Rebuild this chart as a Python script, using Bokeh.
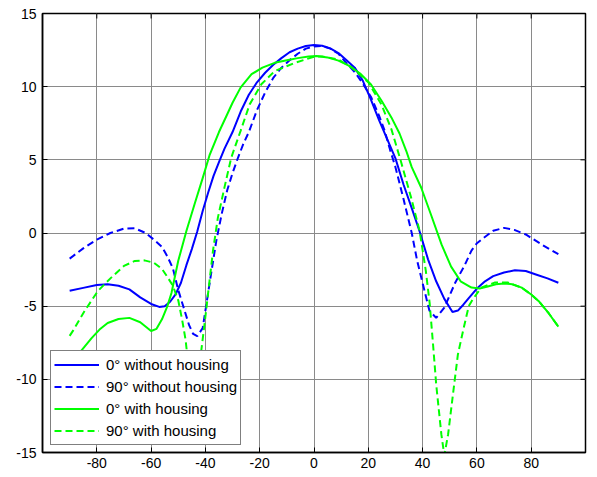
from bokeh.plotting import figure
from bokeh.models import Range1d, FixedTicker, PrintfTickFormatter
from bokeh.embed import file_html
from bokeh.resources import INLINE

# ---- data (angle in degrees, level in dB) ----
x_ticks = [-80, -60, -40, -20, 0, 20, 40, 60, 80]
y_ticks = [-15, -10, -5, 0, 5, 10, 15]

b0_x = [-90, -85, -80, -76, -72, -68, -64, -60, -57, -55, -53, -51, -49, -47, -45, -43, -41, -39,
        -37, -35, -33, -30, -27, -24, -21, -18, -15, -12, -9, -6, -3, 0, 3, 6, 9, 12, 15, 18, 21,
        24, 27, 30, 33, 36, 39, 42, 45, 48, 51, 53, 55, 57, 60, 63, 66, 70, 74, 78, 82, 86, 90]
b0_y = [-3.95, -3.75, -3.55, -3.5, -3.6, -3.85, -4.4, -4.85, -5.05, -5.0, -4.7, -4.2, -3.4, -2.2,
        -1.1, 0.1, 1.5, 2.75, 3.9, 4.85, 5.75, 6.9, 8.3, 9.45, 10.3, 10.95, 11.5, 11.95, 12.35, 12.6,
        12.78, 12.84, 12.8, 12.62, 12.3, 11.8, 11.3, 10.4, 9.1, 7.7, 6.4, 5.1, 3.3, 1.7, 0.05, -1.8,
        -3.3, -4.5, -5.4, -5.3, -4.9, -4.45, -3.8, -3.3, -2.95, -2.7, -2.55, -2.6, -2.85, -3.1, -3.4]

b90_x = [-90, -85, -80, -75, -70, -66, -62, -59, -56, -54, -52, -50, -48, -46, -44.5, -43, -41,
         -40, -38, -36, -34, -32, -30, -28, -26, -24, -21, -18, -15, -12, -9, -6, -3, 0, 3, 6, 9,
         12, 15, 18, 21, 24, 26, 28, 30, 33, 36, 38, 40.5, 42.5, 45, 48, 52, 55.5, 58, 60, 62, 66,
         70, 74, 78, 84, 90]
b90_y = [-1.75, -1.05, -0.45, 0.0, 0.3, 0.32, 0.0, -0.45, -0.95, -1.6, -2.4, -3.9, -5.1, -6.3,
         -6.9, -7.05, -6.5, -5.3, -2.9, -0.55, 1.3, 2.9, 4.1, 5.14, 6.1, 6.9, 8.4, 9.6, 10.6, 11.3,
         11.8, 12.25, 12.6, 12.75, 12.78, 12.6, 12.25, 11.6, 11.0, 10.2, 9.3, 8.0, 7.0, 5.7, 4.5,
         2.3, 0.0, -1.9, -3.8, -5.3, -5.8, -5.1, -3.4, -2.2, -1.2, -0.7, -0.4, 0.15, 0.35, 0.2,
         -0.1, -0.8, -1.45]

g0_x = [-90, -86, -82, -79, -76, -72, -68, -64, -60, -58, -56, -54, -52.5, -50, -47, -44, -41,
        -38.5, -35, -32, -30, -27, -23, -19, -14.5, -10, -6, -2, 1, 5, 9, 13, 17, 21, 25, 28.5,
        31.5, 34, 36, 39.5, 43, 47, 50.5, 54, 58, 61, 64, 67, 70, 73, 76.5, 80, 83, 86.5, 90]
g0_y = [-9.0, -8.1, -7.2, -6.6, -6.15, -5.88, -5.8, -6.1, -6.7, -6.55, -5.9, -5.0, -4.1, -1.9,
        0.14, 1.96, 3.75, 5.3, 6.9, 8.1, 8.9, 9.95, 10.85, 11.3, 11.63, 11.8, 11.95, 12.06, 12.09,
        12.0, 11.78, 11.42, 10.9, 10.15, 9.0, 7.9, 6.8, 5.6, 4.5, 3.09, 1.3, -0.8, -2.3, -3.3,
        -3.73, -3.8, -3.65, -3.5, -3.45, -3.5, -3.73, -4.2, -4.7, -5.5, -6.4]

g90_x = [-90, -88.8, -84.5, -79.6, -74.7, -70, -66, -62.5, -59, -56, -54, -52, -50, -48.5, -47.3,
         -46, -44.5, -43, -41.5, -40.3, -38.5, -37.2, -35.4, -33, -30.5, -27, -23.7, -19.4, -14.5,
         -7, 0, 3, 9, 14, 20, 24.8, 28.5, 32, 35.8, 38.9, 41.2, 42.6, 43.8, 45, 46.9, 48, 49.4,
         51.2, 53, 55, 57, 58.6, 61.6, 66.5, 71.5, 76.4, 80, 83, 86.5, 90]
g90_y = [-7.03, -6.69, -5.33, -3.96, -3.05, -2.25, -1.91, -1.87, -2.03, -2.45, -3.0, -3.6, -4.6,
         -6.0, -7.3, -9.5, -11.5, -11.0, -8.0, -6.2, -3.3, -1.2, 1.05, 3.1, 5.14, 7.0, 8.79, 10.16,
         11.06, 11.63, 12.05, 12.07, 11.85, 11.3, 10.3, 8.8, 7.1, 4.9, 2.4, 0.14, -2.6, -4.8, -7.5,
         -10.33, -13.75, -15.2, -13.75, -11.0, -8.3, -6.6, -5.0, -4.5, -3.73, -3.39, -3.39, -3.73,
         -4.2, -4.7, -5.5, -6.4]

series_labels = ["0° without housing", "90° without housing", "0° with housing", "90° with housing"]

FONT = "Liberation Sans"
X0, X1, Y0, Y1 = -100, 100, -15, 15

p = figure(width=597, height=477, output_backend="svg", toolbar_location=None,
           x_range=Range1d(X0, X1), y_range=Range1d(Y0, Y1),
           min_border_left=42, min_border_right=12, min_border_top=13, min_border_bottom=25,
           background_fill_color="white", border_fill_color="white")
p.outline_line_color = "black"
p.outline_line_width = 1.5

xt = FixedTicker(ticks=x_ticks)
yt = FixedTicker(ticks=y_ticks)

for ax, tk in ((p.xaxis[0], xt), (p.yaxis[0], yt)):
    ax.ticker = tk
    ax.formatter = PrintfTickFormatter(format="%d")
    ax.major_tick_in = 5
    ax.major_tick_out = 0
    ax.minor_tick_line_color = None
    ax.axis_line_width = 1.5
    ax.axis_line_color = "black"
    ax.major_tick_line_color = "black"
    ax.major_label_text_font = FONT
    ax.major_label_text_font_size = "14px"
    ax.major_label_text_color = "black"
p.xaxis[0].major_label_standoff = 5
p.yaxis[0].major_label_standoff = 6

# inward tick marks on the top and right edges of the box (MATLAB style)
tick_len_y = 5 * (Y1 - Y0) / 439.0
tick_len_x = 5 * (X1 - X0) / 543.0
p.segment(x0=x_ticks, y0=[Y1] * len(x_ticks), x1=x_ticks, y1=[Y1 - tick_len_y] * len(x_ticks),
          line_color="black", line_width=1)
p.segment(x0=[X1] * len(y_ticks), y0=y_ticks, x1=[X1 - tick_len_x] * len(y_ticks), y1=y_ticks,
          line_color="black", line_width=1)

p.xgrid.ticker = xt
p.ygrid.ticker = yt
for g in (p.xgrid[0], p.ygrid[0]):
    g.grid_line_color = "#8a8a8a"
    g.grid_line_width = 1
    g.grid_line_alpha = 1.0

BLUE = "#0000ff"
GREEN = "#00ff00"
DASH = "7 4"

p.line(b0_x, b0_y, line_color=BLUE, line_width=2, legend_label=series_labels[0])
p.line(b90_x, b90_y, line_color=BLUE, line_width=2, line_dash=DASH, legend_label=series_labels[1])
p.line(g0_x, g0_y, line_color=GREEN, line_width=2, legend_label=series_labels[2])
p.line(g90_x, g90_y, line_color=GREEN, line_width=2, line_dash=DASH, legend_label=series_labels[3])

lg = p.legend[0]
lg.location = (8, 7)
lg.margin = 0
lg.padding = 3
lg.spacing = 1
lg.label_height = 21
lg.glyph_height = 21
lg.glyph_width = 45
lg.label_standoff = 7
lg.label_text_font = FONT
lg.label_text_font_size = "15px"
lg.label_text_color = "black"
lg.border_line_color = "black"
lg.border_line_width = 1
lg.background_fill_color = "white"
lg.background_fill_alpha = 1.0

open("out.html", "w").write(file_html(p, INLINE))
